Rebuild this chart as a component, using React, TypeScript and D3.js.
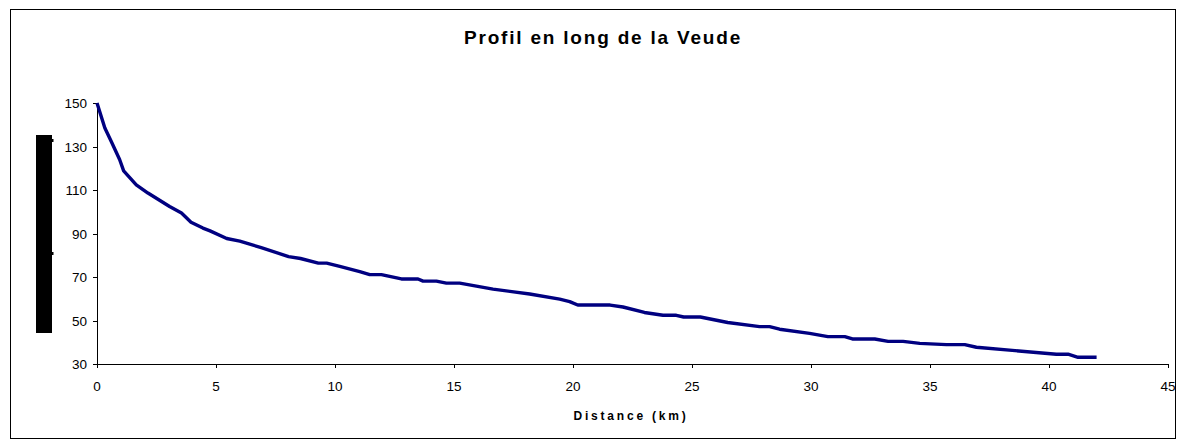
import React from 'react';
import * as d3 from 'd3';

// Longitudinal profile of the Veude (distance in km, elevation in m)
const distanceKm = [
  0, 0.33, 0.6, 0.95, 1.12, 1.65, 2.14, 3.05, 3.55, 3.95, 4.45, 4.75, 5.45, 6.0, 6.9, 8.05, 8.55, 9.3, 9.65,
  10.2, 11.04, 11.46, 11.95, 12.79, 13.49, 13.7, 14.26, 14.68, 15.24, 16.64, 18.18, 19.44, 19.86, 20.2, 21.56,
  22.1, 23.0, 23.78, 24.34, 24.65, 25.35, 26.5, 27.84, 28.26, 28.68, 29.94, 30.71, 31.42, 31.74, 32.68, 33.24,
  33.87, 34.57, 35.69, 36.46, 36.95, 40.31, 40.8, 41.22, 42.0,
];
const elevation = [
  150, 138.5, 132.3, 124, 118.8, 112.4, 108.6, 102.4, 99.4, 95.2, 92.5, 91.2, 87.7, 86.5, 83.5, 79.4, 78.5, 76.4, 76.4,
  74.9, 72.5, 71.1, 71.1, 69.1, 69.1, 68.1, 68.1, 67.2, 67.2, 64.4, 62.2, 59.8, 58.7, 57.1, 57.1,
  56.2, 53.7, 52.4, 52.4, 51.6, 51.6, 49.1, 47.2, 47.2, 46.0, 44.1, 42.6, 42.6, 41.5, 41.5, 40.4,
  40.4, 39.5, 38.9, 38.9, 37.7, 34.5, 34.5, 33.1, 33.1,
];
const xTicks = [0, 5, 10, 15, 20, 25, 30, 35, 40, 45];
const yTicks = [30, 50, 70, 90, 110, 130, 150];

const title = 'Profil en long de la Veude';
const xTitle = 'Distance (km)';

const W = 1184;
const H = 448;
const font = '"Liberation Sans", Arial, sans-serif';

export default function App() {
  const x = d3.scaleLinear().domain([0, 45]).range([97, 1168]);
  const y = d3.scaleLinear().domain([30, 150]).range([364, 103]);

  const pts: [number, number][] = distanceKm.map((d, i) => [d, elevation[i]]);
  const line = d3.line<[number, number]>()
    .x(d => x(d[0]))
    .y(d => y(d[1]));

  return (
    <svg
      width={W}
      height={H}
      style={{ position: 'fixed', top: 0, left: 0, background: '#fff' }}
      fontFamily={font}
    >
      {/* chart frame */}
      <rect x={10.5} y={9.5} width={1165} height={429} fill="none" stroke="#000" strokeWidth={1} />

      <text x={603} y={44} textAnchor="middle" fontSize={19} fontWeight="bold" letterSpacing={1.8} fill="#000">
        {title}
      </text>

      {/* redacted y-axis title */}
      <rect x={36} y={135} width={16} height={198} fill="#000" />
      <rect x={52} y={139} width={1.5} height={3} fill="#000" />
      <rect x={52} y={252} width={1.5} height={3} fill="#000" />

      {/* y axis */}
      <line x1={x(0) + 0.5} x2={x(0) + 0.5} y1={y(150)} y2={y(30)} stroke="#000" />
      {yTicks.map(t => (
        <g key={t}>
          <line x1={x(0) - 4} x2={x(0)} y1={Math.round(y(t)) + 0.5} y2={Math.round(y(t)) + 0.5} stroke="#000" />
          <text x={x(0) - 10} y={y(t) + 5} textAnchor="end" fontSize={13.5} fill="#000">
            {t}
          </text>
        </g>
      ))}

      {/* x axis */}
      <line x1={x(0)} x2={x(45)} y1={y(30) + 0.5} y2={y(30) + 0.5} stroke="#000" />
      {xTicks.map(t => (
        <g key={t}>
          <line x1={Math.round(x(t)) + 0.5} x2={Math.round(x(t)) + 0.5} y1={y(30)} y2={y(30) + 4} stroke="#000" />
          <text x={x(t)} y={y(30) + 27} textAnchor="middle" fontSize={13.5} fill="#000">
            {t}
          </text>
        </g>
      ))}

      <text x={631} y={420} textAnchor="middle" fontSize={12} fontWeight="bold" letterSpacing={2.8} fill="#000">
        {xTitle}
      </text>

      <path d={line(pts) || ''} fill="none" stroke="#000080" strokeWidth={3.4} strokeLinejoin="round" />
    </svg>
  );
}
